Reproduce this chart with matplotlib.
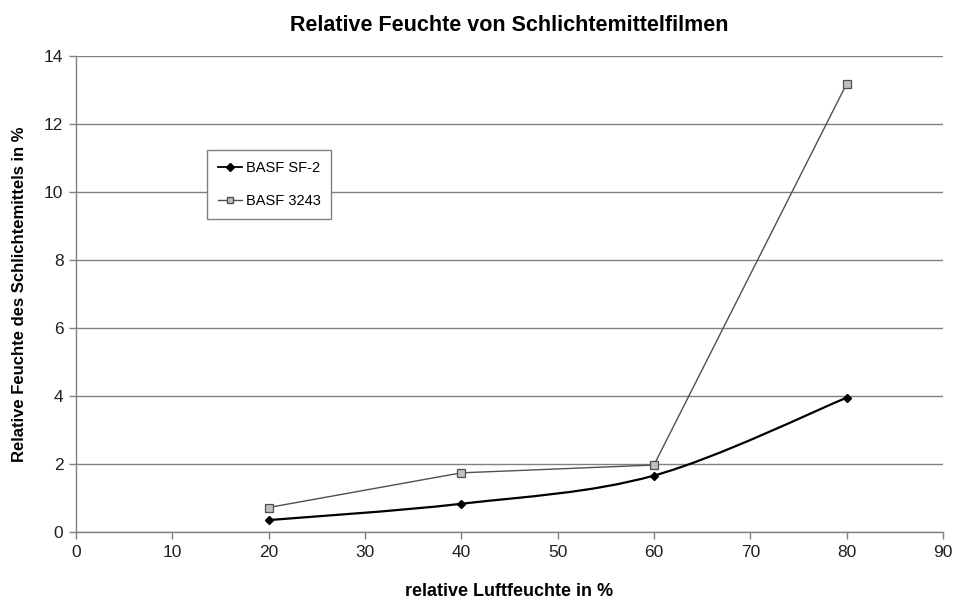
import numpy as np
import matplotlib.pyplot as plt
from matplotlib.path import Path
from matplotlib.patches import PathPatch
from matplotlib.lines import Line2D

plt.rcParams['font.family'] = ['Liberation Sans', 'DejaVu Sans']

# relative humidity of the air (%)
luftfeuchte = [20, 40, 60, 80]
# moisture uptake of the sizing films (%)
sf2 = [0.35, 0.83, 1.66, 3.95]
b3243 = [0.72, 1.74, 1.97, 13.18]

y_ticks = [0, 2, 4, 6, 8, 10, 12, 14]
x_ticks = [0, 10, 20, 30, 40, 50, 60, 70, 80, 90]


def smooth_path(x, y, tension=1 / 6):
    """Bezier path through the points, like a spreadsheet 'smoothed line'."""
    pts = np.column_stack([x, y]).astype(float)
    verts = [pts[0]]
    codes = [Path.MOVETO]
    n = len(pts)
    for i in range(n - 1):
        p0 = pts[i - 1] if i > 0 else pts[i]
        p1 = pts[i]
        p2 = pts[i + 1]
        p3 = pts[i + 2] if i + 2 < n else pts[i + 1]
        c1 = p1 + (p2 - p0) * tension
        c2 = p2 - (p3 - p1) * tension
        verts += [c1, c2, p2]
        codes += [Path.CURVE4] * 3
    return Path(verts, codes)


fig = plt.figure(figsize=(9.58, 6.04), dpi=100)
ax = fig.add_axes([0.0793, 0.1192, 0.905, 0.7881])

ax.set_xlim(0, 90)
ax.set_ylim(0, 14)
ax.set_xticks(x_ticks)
ax.set_yticks(y_ticks)
ax.yaxis.grid(True, color='#808080', linewidth=1.0)
ax.set_axisbelow(True)

for side in ['top', 'right']:
    ax.spines[side].set_visible(False)
for side in ['left', 'bottom']:
    ax.spines[side].set_color('#808080')
    ax.spines[side].set_linewidth(1.0)
ax.tick_params(direction='out', length=5, width=1, color='#808080',
               labelsize=12.5, labelcolor='#202020', pad=4)

# BASF SF-2: smoothed black line with diamond markers
patch = PathPatch(smooth_path(luftfeuchte, sf2), facecolor='none',
                  edgecolor='black', linewidth=1.6, zorder=3)
ax.add_patch(patch)
ax.plot(luftfeuchte, sf2, linestyle='none', marker='D', markersize=4.5,
        color='black', zorder=4)

# BASF 3243: straight grey line with square markers
ax.plot(luftfeuchte, b3243, color='#505050', linewidth=1.0, marker='s',
        markersize=6, markerfacecolor='#c0c0c0', markeredgecolor='#505050',
        markeredgewidth=0.9, zorder=3)

handles = [
    Line2D([], [], color='black', linewidth=1.3, marker='D', markersize=4),
    Line2D([], [], color='#505050', linewidth=1.0, marker='s', markersize=5,
           markerfacecolor='#c0c0c0', markeredgecolor='#505050'),
]
leg = ax.legend(handles, ['BASF SF-2', 'BASF 3243'], loc='upper left',
                bbox_to_anchor=(0.151, 0.8025), fontsize=10.5, frameon=True,
                fancybox=False, edgecolor='#808080', framealpha=1,
                handlelength=1.65, handletextpad=0.25, labelspacing=1.3,
                borderpad=0.75, borderaxespad=0)
leg.get_frame().set_linewidth(1.0)

ax.set_title('Relative Feuchte von Schlichtemittelfilmen', fontsize=15.5,
             fontweight='bold', pad=18)
ax.set_xlabel('relative Luftfeuchte in %', fontsize=13, fontweight='bold',
              labelpad=17)
ax.set_ylabel('Relative Feuchte des Schlichtemittels in %', fontsize=12,
              fontweight='bold', labelpad=12)

fig.savefig('out.png', dpi=100)
